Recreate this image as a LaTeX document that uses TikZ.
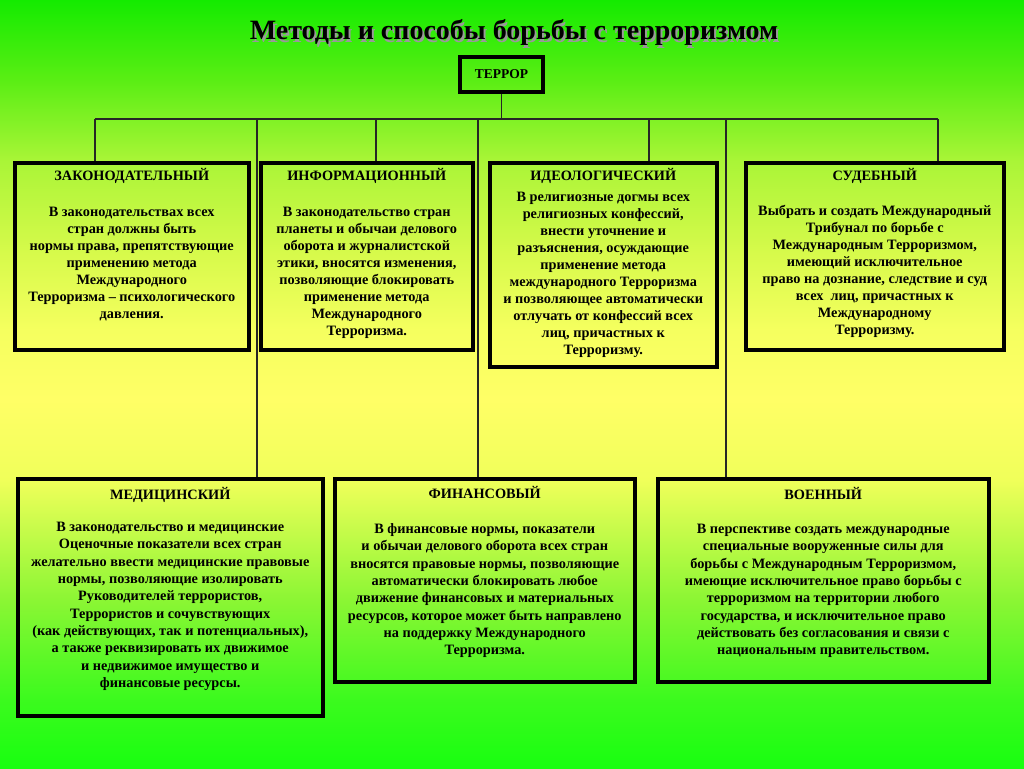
\documentclass[tikz,border=0pt]{standalone}
\usepackage{fontspec}
\setmainfont{Liberation Serif}
\definecolor{cA}{RGB}{24,255,16}
\definecolor{cB}{RGB}{60,250,30}
\definecolor{cC}{RGB}{140,246,52}
\definecolor{cD}{RGB}{240,255,90}
\definecolor{cE}{RGB}{255,255,102}
\definecolor{cF}{RGB}{245,255,95}
\definecolor{cG}{RGB}{215,250,75}
\definecolor{cH}{RGB}{170,245,55}
\definecolor{cI}{RGB}{90,238,20}
\definecolor{cJ}{RGB}{20,235,0}
\pgfdeclareverticalshading{bgshade}{100bp}{color(0bp)=(cA); color(25bp)=(cA); color(29.5bp)=(cB); color(36bp)=(cC); color(43.75bp)=(cD); color(49bp)=(cE); color(53.5bp)=(cF); color(58.5bp)=(cG); color(64.5bp)=(cH); color(69.8bp)=(cI); color(75bp)=(cJ); color(100bp)=(cJ)}
\newcommand{\shtext}[1]{\makebox[0pt][l]{\hspace{2pt}\raisebox{-2pt}{\color{black!40}#1}}#1}
\tikzset{
  box/.style={draw=black, line width=3.5pt, anchor=north west, inner sep=0pt},
  txt/.style={anchor=north, align=center, inner sep=0pt, font=\fontsize{14.3}{17}\selectfont\bfseries},
  txtb/.style={txt, font=\fontsize{14.3}{17.3}\selectfont\bfseries},
  conn/.style={draw=black!85, line width=1.1pt},
}
\begin{document}
\begin{tikzpicture}[x=1pt,y=-1pt]
\useasboundingbox (0,0) rectangle (1024,768);
\shade[shading=bgshade] (0,0) rectangle (1024,768);

\node[anchor=base, inner sep=0pt, font=\fontsize{28}{30}\selectfont\bfseries] (title) at (514,40) {\shtext{Методы и способы борьбы с терроризмом}};

\node[draw=black, line width=4pt, minimum width=83pt, minimum height=35pt, inner sep=0pt, font=\fontsize{13.5}{15}\selectfont\bfseries] (terror) at (501.5,74.5) {ТЕРРОР};

% boxes
\node[box, minimum width=234pt, minimum height=187pt] (b1) at (13,161) {};
\node[box, minimum width=212pt, minimum height=187pt] (b2) at (259,161) {};
\node[box, minimum width=227pt, minimum height=204pt] (b3) at (488,161) {};
\node[box, minimum width=258pt, minimum height=187pt] (b4) at (744,161) {};
\node[box, minimum width=305pt, minimum height=237pt] (b5) at (16,477) {};
\node[box, minimum width=300pt, minimum height=203pt] (b6) at (333,477) {};
\node[box, minimum width=331pt, minimum height=203pt] (b7) at (656,477) {};

% bus
\coordinate (busL) at (95,119);
\coordinate (busR) at (938,119);
\coordinate (x2) at (376,119);
\coordinate (x3) at (649,119);
\coordinate (x5) at (257,119);
\coordinate (x6) at (478,119);
\coordinate (x7) at (726,119);
\draw[conn] (busL) -- (busR);
\draw[conn] (terror.south) -- (terror.south |- busL);
\draw[conn] (busL) -- (busL |- b1.north);
\draw[conn] (x2) -- (x2 |- b2.north);
\draw[conn] (x3) -- (x3 |- b3.north);
\draw[conn] (busR) -- (busR |- b4.north);
\draw[conn] (x5) -- (x5 |- b5.north);
\draw[conn] (x6) -- (x6 |- b6.north);
\draw[conn] (x7) -- (x7 |- b7.north);

% texts
\node[txt] (t1) at ([yshift=-7pt]b1.north) {ЗАКОНОДАТЕЛЬНЫЙ\\[19pt]
В законодательствах всех\\
стран должны быть\\
нормы права, препятствующие\\
применению метода\\
Международного\\
Терроризма – психологического\\
давления.};

\node[txt] (t2) at ([yshift=-7pt]b2.north) {ИНФОРМАЦИОННЫЙ\\[19pt]
В законодательство стран\\
планеты и обычаи делового\\
оборота и журналистской\\
этики, вносятся изменения,\\
позволяющие блокировать\\
применение метода\\
Международного\\
Терроризма.};

\node[txt] (t3) at ([yshift=-7pt]b3.north) {ИДЕОЛОГИЧЕСКИЙ\\[4pt]
В религиозные догмы всех\\
религиозных конфессий,\\
внести уточнение и\\
разъяснения, осуждающие\\
применение метода\\
международного Терроризма\\
и позволяющее автоматически\\
отлучать от конфессий всех\\
лиц, причастных к\\
Терроризму.};

\node[txt] (t4) at ([yshift=-7pt]b4.north) {СУДЕБНЫЙ\\[18pt]
Выбрать и создать Международный\\
Трибунал по борьбе с\\
Международным Терроризмом,\\
имеющий исключительное\\
право на дознание, следствие и суд\\
всех\ \ лиц, причастных к\\
Международному\\
Терроризму.};

\node[txtb] (t5) at ([yshift=-10pt]b5.north) {МЕДИЦИНСКИЙ\\[15pt]
В законодательство и медицинские\\
Оценочные показатели всех стран\\
желательно ввести медицинские правовые\\
нормы, позволяющие изолировать\\
Руководителей террористов,\\
Террористов и сочувствующих\\
(как действующих, так и потенциальных),\\
а также реквизировать их движимое\\
и недвижимое имущество и\\
финансовые ресурсы.};

\node[txtb] (t6) at ([yshift=-9pt]b6.north) {ФИНАНСОВЫЙ\\[18pt]
В финансовые нормы, показатели\\
и обычаи делового оборота всех стран\\
вносятся правовые нормы, позволяющие\\
автоматически блокировать любое\\
движение финансовых и материальных\\
ресурсов, которое может быть направлено\\
на поддержку Международного\\
Терроризма.};

\node[txtb] (t7) at ([yshift=-10pt]b7.north) {ВОЕННЫЙ\\[17pt]
В перспективе создать международные\\
специальные вооруженные силы для\\
борьбы с Международным Терроризмом,\\
имеющие исключительное право борьбы с\\
терроризмом на территории любого\\
государства, и исключительное право\\
действовать без согласования и связи с\\
национальным правительством.};
\end{tikzpicture}
\end{document}
